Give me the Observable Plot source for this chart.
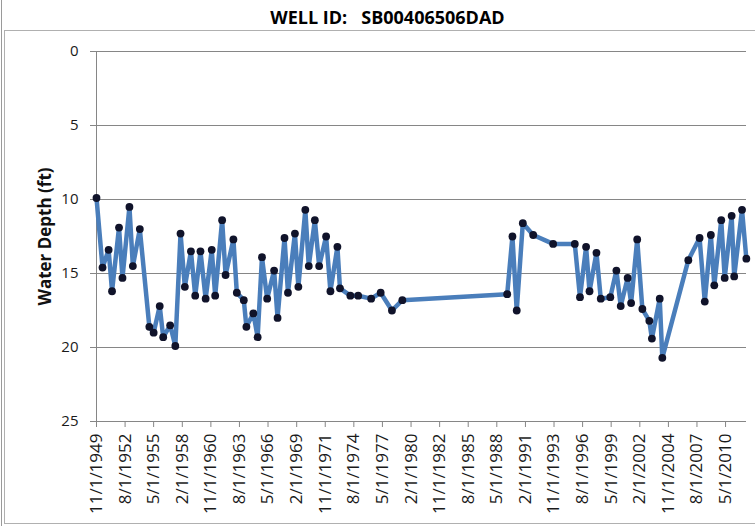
<!DOCTYPE html>
<html>
<head>
<meta charset="utf-8">
<script src="https://cdn.jsdelivr.net/npm/d3@7"></script>
<script src="https://cdn.jsdelivr.net/npm/@observablehq/plot@0.6"></script>
<style>
  html, body { margin: 0; padding: 0; background: #fff; }
  #wrap { position: relative; width: 755px; height: 526px; overflow: hidden; font-family: "Open Sans", sans-serif; }
  #title { height: 29px; width: 755px; margin-left: 10px; text-align: center; font-weight: bold; font-size: 18px; line-height: 34px; color: #000; white-space: pre; }
  .edge { position: absolute; pointer-events: none; }
  #outer { left: 1px; top: 0; width: 0; height: 526px; border-left: 1px solid #9a9a9a; }
  #inner { left: 4px; top: 30px; width: 800px; height: 492px; border: 1px solid #b0b0b0; }
  #chart svg { display: block; }
</style>
</head>
<body>
<div id="wrap">
  <div id="title">WELL ID:   SB00406506DAD</div>
  <div id="chart"></div>
  <div class="edge" id="outer"></div>
  <div class="edge" id="inner"></div>
</div>
<script>
const measureDates = [
  "1949-11","1950-06","1951-01","1951-05","1952-01","1952-05","1953-01","1953-05","1954-01","1954-12",
  "1955-05","1955-12","1956-04","1956-12","1957-06","1957-12","1958-05","1958-12","1959-05","1959-11",
  "1960-05","1960-12","1961-04","1961-12","1962-04","1963-01","1963-05","1964-01","1964-04","1964-12",
  "1965-05","1965-10","1966-04","1966-12","1967-04","1967-12","1968-04","1968-12","1969-04","1969-12",
  "1970-04","1970-11","1971-04","1971-12","1972-05","1973-01","1973-04","1974-04","1975-01","1976-04",
  "1977-03","1978-04","1979-04","1989-05","1989-11","1990-04","1990-11","1991-11","1993-10","1995-11",
  "1996-05","1996-12","1997-04","1997-12","1998-05","1999-04","1999-11","2000-04","2000-12","2001-04",
  "2001-11","2002-05","2003-01","2003-04","2004-01","2004-04","2006-10","2007-11","2008-05","2008-12",
  "2009-04","2009-12","2010-04","2010-12","2011-03","2011-12","2012-05"
];
const waterDepth = [
  9.9,14.6,13.4,16.2,11.9,15.3,10.5,14.5,12.0,18.6,
  19.0,17.2,19.3,18.5,19.9,12.3,15.9,13.5,16.5,13.5,
  16.7,13.4,16.5,11.4,15.1,12.7,16.3,16.8,18.6,17.7,
  19.3,13.9,16.7,14.8,18.0,12.6,16.3,12.3,15.9,10.7,
  14.5,11.4,14.5,12.5,16.2,13.2,16.0,16.5,16.5,16.7,
  16.3,17.5,16.8,16.4,12.5,17.5,11.6,12.4,13.0,13.0,
  16.6,13.2,16.2,13.6,16.7,16.6,14.8,17.2,15.3,17.0,
  12.7,17.4,18.2,19.4,16.7,20.7,14.1,12.6,16.9,12.4,
  15.8,11.4,15.3,11.1,15.2,10.7,14.0
];
const xTickLabels = [
  "11/1/1949","8/1/1952","5/1/1955","2/1/1958","11/1/1960","8/1/1963","5/1/1966","2/1/1969",
  "11/1/1971","8/1/1974","5/1/1977","2/1/1980","11/1/1982","8/1/1985","5/1/1988","2/1/1991",
  "11/1/1993","8/1/1996","5/1/1999","2/1/2002","11/1/2004","8/1/2007","5/1/2010"
];
const yTicks = [0, 5, 10, 15, 20, 25];
const gridTicks = [0, 5, 10, 15, 20];
const xDomain = ["1949-11-01", "2012-05-06"];

const parseYM = s => { const [y, m] = s.split("-").map(Number); return new Date(Date.UTC(y, m - 1, 1)); };
const parseMDY = s => { const [m, d, y] = s.split("/").map(Number); return new Date(Date.UTC(y, m - 1, d)); };
const parseISO = s => { const [y, m, d] = s.split("-").map(Number); return new Date(Date.UTC(y, m - 1, d)); };

const data = measureDates.map((d, i) => ({date: parseYM(d), depth: waterDepth[i]}));
const xTicks = xTickLabels.map(parseMDY);
const labelFor = new Map(xTicks.map((d, i) => [+d, xTickLabels[i]]));
const xd = xDomain.map(parseISO);

const axisColor = "#868686";

const chart = Plot.plot({
  width: 755,
  height: 497,
  marginTop: 22,
  marginBottom: 105,
  marginLeft: 96,
  marginRight: 9,
  style: {fontFamily: "Open Sans, sans-serif", color: "#1a1a1a", background: "white", overflow: "visible"},
  x: {type: "utc", domain: xd},
  y: {domain: [0, 25], reverse: true},
  marks: [
    Plot.ruleY(gridTicks, {stroke: axisColor, strokeWidth: 1}),
    Plot.ruleY([25], {stroke: axisColor, strokeWidth: 1}),
    Plot.ruleX([xd[0]], {y1: 0, y2: 25, stroke: axisColor, strokeWidth: 1}),
    Plot.axisY({ticks: yTicks, tickSize: 6, tickPadding: 12, fontSize: 15, stroke: axisColor, label: null}),
    Plot.axisX({ticks: xTicks, tickFormat: d => labelFor.get(+d), tickRotate: -90, tickSize: 6, tickPadding: 6, fontSize: 17, stroke: axisColor, label: null}),
    Plot.line(data, {x: "date", y: "depth", stroke: "#4a7ebb", strokeWidth: 4.5, strokeLinejoin: "round", strokeLinecap: "round"}),
    Plot.dot(data, {x: "date", y: "depth", r: 3.9, fill: "#10132a", stroke: "none"}),
    Plot.text(["Water Depth (ft)"], {frameAnchor: "left", rotate: -90, dx: -51, text: d => d, fontSize: 17, fontWeight: "bold", fill: "#111", textAnchor: "middle", lineAnchor: "middle"})
  ]
});
document.getElementById("chart").appendChild(chart);
</script>
</body>
</html>
